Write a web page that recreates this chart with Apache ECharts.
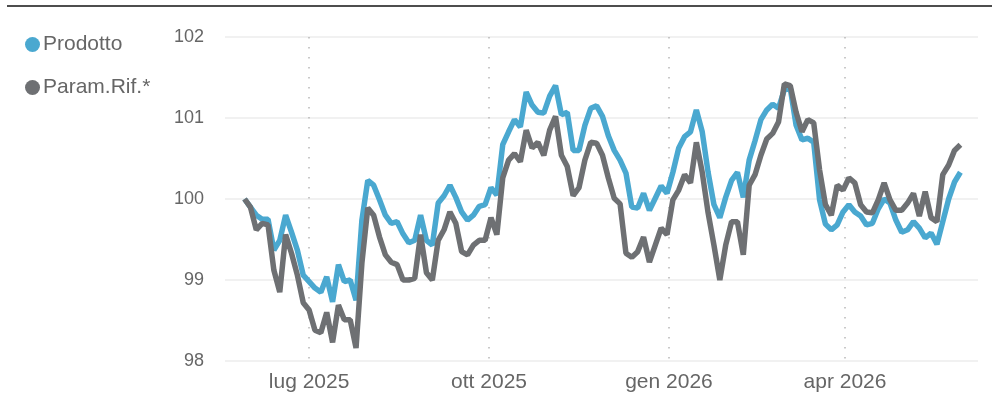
<!DOCTYPE html>
<html>
<head>
<meta charset="utf-8">
<script src="https://cdn.jsdelivr.net/npm/echarts@6/dist/echarts.min.js"></script>
<style>
    html, body { margin: 0; padding: 0; background: #fff; }
    #chart { width: 992px; height: 397px; }
</style>
</head>
<body>
<div id="chart"></div>
<script>
    // un punto ogni 3 giorni a partire dal 29/05/2025
    var startDate = [2025, 4, 29];
    var stepDays = 3;

    var prodotto = [
        100.00, 99.90, 99.80, 99.75, 99.75, 99.37, 99.49, 99.80, 99.59, 99.37,
        99.06, 98.98, 98.90, 98.85, 99.04, 98.73, 99.19, 98.98, 99.00, 98.75,
        99.74, 100.23, 100.17, 99.99, 99.80, 99.70, 99.72, 99.57, 99.46, 99.49,
        99.80, 99.49, 99.43, 99.95, 100.04, 100.17, 100.02, 99.84, 99.74, 99.80,
        99.91, 99.93, 100.14, 100.05, 100.67, 100.83, 100.98, 100.89, 101.32, 101.16,
        101.07, 101.06, 101.27, 101.40, 101.04, 101.07, 100.60, 100.60, 100.91, 101.12,
        101.15, 101.02, 100.78, 100.60, 100.48, 100.32, 99.90, 99.89, 100.07, 99.86,
        100.01, 100.16, 100.07, 100.33, 100.63, 100.77, 100.83, 101.10, 100.83, 100.33,
        99.93, 99.77, 100.02, 100.23, 100.33, 100.02, 100.48, 100.72, 100.98, 101.10,
        101.17, 101.12, 101.35, 101.37, 100.91, 100.73, 100.75, 100.70, 99.99, 99.69,
        99.62, 99.68, 99.84, 99.93, 99.84, 99.79, 99.68, 99.70, 99.88, 100.00,
        99.95, 99.74, 99.59, 99.62, 99.72, 99.64, 99.52, 99.58, 99.44, 99.72,
        100.00, 100.21, 100.33
    ];

    var paramRif = [
        100.00, 99.90, 99.62, 99.70, 99.68, 99.12, 98.85, 99.56, 99.33, 99.06,
        98.72, 98.63, 98.38, 98.35, 98.60, 98.23, 98.69, 98.51, 98.51, 98.16,
        99.21, 99.89, 99.80, 99.53, 99.31, 99.22, 99.19, 99.00, 99.00, 99.02,
        99.56, 99.09, 99.00, 99.49, 99.62, 99.84, 99.70, 99.35, 99.31, 99.43,
        99.49, 99.49, 99.77, 99.56, 100.26, 100.48, 100.56, 100.46, 100.85, 100.63,
        100.70, 100.54, 100.85, 101.02, 100.54, 100.40, 100.04, 100.14, 100.48, 100.70,
        100.69, 100.54, 100.26, 100.01, 99.94, 99.33, 99.28, 99.35, 99.53, 99.22,
        99.43, 99.64, 99.56, 99.99, 100.11, 100.30, 100.20, 100.70, 100.33, 99.83,
        99.43, 99.00, 99.43, 99.72, 99.72, 99.31, 100.17, 100.30, 100.54, 100.74,
        100.81, 100.95, 101.42, 101.40, 101.07, 100.83, 100.98, 100.94, 100.36, 99.93,
        99.80, 100.17, 100.11, 100.26, 100.20, 99.93, 99.84, 99.83, 99.99, 100.20,
        99.99, 99.86, 99.86, 99.95, 100.07, 99.79, 100.09, 99.77, 99.72, 100.30,
        100.42, 100.60, 100.67
    ];

    var mesi = ['gen', 'feb', 'mar', 'apr', 'mag', 'giu', 'lug', 'ago', 'set', 'ott', 'nov', 'dic'];
    var yTicks = [98, 99, 100, 101, 102];

    var dates = [];
    for (var i = 0; i < prodotto.length; i++) {
        dates.push(new Date(startDate[0], startDate[1], startDate[2] + i * stepDays).getTime());
    }

    function pairs(values) {
        return values.map(function (v, i) {
            return [dates[i], v];
        });
    }

    var font = '"Liberation Sans", Arial, sans-serif';

    var chart = echarts.init(document.getElementById('chart'), null, {renderer: 'canvas'});
    var option = {
        animation: false,
        color: ['#4aa8d0', '#6e7073'],
        textStyle: {
            fontFamily: font
        },
        graphic: [{
            type: 'line',
            shape: {x1: 7, y1: 6, x2: 992, y2: 6},
            style: {stroke: '#4d4d4d', lineWidth: 2}
        }],
        legend: {
            orient: 'vertical',
            left: 20,
            top: 29,
            icon: 'circle',
            itemWidth: 15,
            itemHeight: 15,
            itemGap: 22,
            selectedMode: false,
            textStyle: {
                color: '#666',
                fontSize: 21,
                fontFamily: font,
                padding: [0, 0, 0, -2]
            },
            data: ['Prodotto', 'Param.Rif.*']
        },
        grid: {
            left: 225,
            right: 14,
            top: 37,
            bottom: 36,
            containLabel: false
        },
        xAxis: {
            type: 'time',
            min: new Date(2025, 4, 19).getTime(),
            max: new Date(2026, 5, 8).getTime(),
            splitNumber: 4,
            axisLine: {show: false},
            axisTick: {show: false},
            axisLabel: {
                color: '#666',
                fontSize: 21,
                fontFamily: font,
                margin: 11,
                fontWeight: 'normal',
                formatter: function (val) {
                    var d = new Date(val);
                    return mesi[d.getMonth()] + ' ' + d.getFullYear();
                }
            },
            splitLine: {
                show: true,
                showMinLine: false,
                showMaxLine: false,
                lineStyle: {
                    color: '#b8b8b8',
                    width: 1.5,
                    type: [1.5, 8.5]
                }
            }
        },
        yAxis: {
            type: 'value',
            min: yTicks[0],
            max: yTicks[yTicks.length - 1],
            interval: 1,
            axisLine: {show: false},
            axisTick: {show: false},
            axisLabel: {
                color: '#666',
                fontSize: 18,
                fontFamily: font,
                margin: 21
            },
            splitLine: {
                show: true,
                lineStyle: {
                    color: '#ececec',
                    width: 1.5
                }
            }
        },
        series: [
            {
                name: 'Prodotto',
                type: 'line',
                data: pairs(prodotto),
                showSymbol: false,
                lineStyle: {width: 5.5}
            },
            {
                name: 'Param.Rif.*',
                type: 'line',
                data: pairs(paramRif),
                showSymbol: false,
                lineStyle: {width: 5.5}
            }
        ]
    };
    chart.setOption(option);
</script>
</body>
</html>
